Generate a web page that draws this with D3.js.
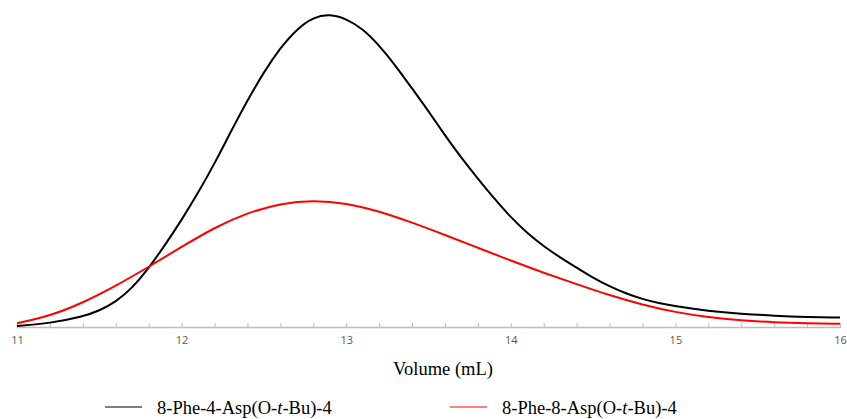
<!DOCTYPE html>
<html>
<head>
<meta charset="utf-8"/>
<script src="https://cdn.jsdelivr.net/npm/d3@7/dist/d3.min.js"></script>
<style>
  html, body { margin:0; padding:0; background:#fff; }
  svg { display:block; }
</style>
</head>
<body>
<svg width="847" height="419"></svg>
<script>
// elution volume (mL) and normalised signal
const volA = [11.0, 11.2, 11.4, 11.5, 11.6, 11.7, 11.8, 11.9, 12.0, 12.1, 12.2, 12.3, 12.4, 12.5, 12.6, 12.7, 12.8, 12.9,
              13.0, 13.1, 13.2, 13.3, 13.4, 13.5, 13.6, 13.7, 13.8, 13.9, 14.0, 14.1, 14.2, 14.3, 14.4, 14.5,
              14.6, 14.7, 14.8, 14.9, 15.0, 15.2, 15.4, 15.6, 15.8, 16.0];
const sigA = [0.003, 0.012, 0.033, 0.052, 0.08, 0.124, 0.188, 0.262, 0.342, 0.428, 0.522, 0.625, 0.724, 0.815, 0.892, 0.952, 0.99, 1.0,
              0.985, 0.953, 0.9, 0.835, 0.762, 0.69, 0.612, 0.54, 0.474, 0.41, 0.35, 0.3, 0.258, 0.222, 0.19, 0.157,
              0.13, 0.107, 0.089, 0.076, 0.066, 0.051, 0.042, 0.036, 0.032, 0.030];

const volB = [11.0, 11.2, 11.4, 11.6, 11.8, 12.0, 12.2, 12.4, 12.6, 12.8, 13.0, 13.2, 13.4, 13.6, 13.8,
              14.0, 14.2, 14.4, 14.6, 14.8, 15.0, 15.2, 15.4, 15.6, 15.8, 16.0];
const sigB = [0.012, 0.035, 0.077, 0.131, 0.192, 0.256, 0.318, 0.365, 0.395, 0.405, 0.396, 0.37, 0.334, 0.294, 0.253,
              0.212, 0.173, 0.137, 0.101, 0.071, 0.047, 0.031, 0.021, 0.015, 0.012, 0.01];

const seriesNames = ["8-Phe-4-Asp(O-t-Bu)-4", "8-Phe-8-Asp(O-t-Bu)-4"];
const seriesColors = ["#000000", "#ff0000"];
const xTicks = [11, 12, 13, 14, 15, 16];

const svg = d3.select("svg");
const x = d3.scaleLinear().domain([11, 16]).range([17, 840]);
const y = d3.scaleLinear().domain([0, 1]).range([327, 14]);

// axis: small ticks every 0.2 pointing up, labels only on whole numbers
const minor = d3.range(11, 16.001, 0.2).map(v => +v.toFixed(1));
const axis = d3.axisBottom(x)
  .tickValues(minor)
  .tickSize(-4)
  .tickPadding(9)
  .tickFormat(v => xTicks.includes(v) ? d3.format("d")(v) : "");
const gx = svg.append("g").attr("transform", `translate(0,${y(0)})`).call(axis);
gx.select(".domain").attr("stroke", "#bdbdbd").attr("stroke-width", 1.3);
gx.selectAll(".tick line").attr("stroke", "#bdbdbd");
gx.selectAll(".tick text")
  .attr("fill", "#595959")
  .attr("font-family", "'Open Sans', 'DejaVu Sans', sans-serif")
  .attr("font-size", 11);

svg.append("text")
  .attr("x", 443).attr("y", 375)
  .attr("text-anchor", "middle")
  .attr("font-family", "'Liberation Serif', 'Times New Roman', serif")
  .attr("font-size", 18.5)
  .text("Volume (mL)");

const line = d3.line()
  .x(d => x(d[0]))
  .y(d => y(d[1]))
  .curve(d3.curveBasis);

const series = [
  d3.zip(volA, sigA),
  d3.zip(volB, sigB)
];

svg.selectAll("path.trace")
  .data(series)
  .join("path")
    .attr("class", "trace")
    .attr("d", line)
    .attr("fill", "none")
    .attr("stroke", (d, i) => seriesColors[i])
    .attr("stroke-width", 2);

// legend
const legX = [105, 450];
const leg = svg.selectAll("g.leg")
  .data(seriesNames)
  .join("g")
    .attr("class", "leg")
    .attr("transform", (d, i) => `translate(${legX[i]},407)`);
leg.append("line")
  .attr("x1", 0).attr("x2", 37)
  .attr("stroke", (d, i) => seriesColors[i])
  .attr("stroke-width", 1);
leg.append("text")
  .attr("x", 52).attr("y", 7)
  .attr("font-family", "'Liberation Serif', 'Times New Roman', serif")
  .attr("font-size", 18.5)
  .each(function(d) {
    // italic t in O-t-Bu
    const t = d3.select(this);
    const k = d.indexOf("-t-");
    t.append("tspan").text(d.slice(0, k + 1));
    t.append("tspan").attr("font-style", "italic").text("t");
    t.append("tspan").text(d.slice(k + 2));
  });
</script>
</body>
</html>
